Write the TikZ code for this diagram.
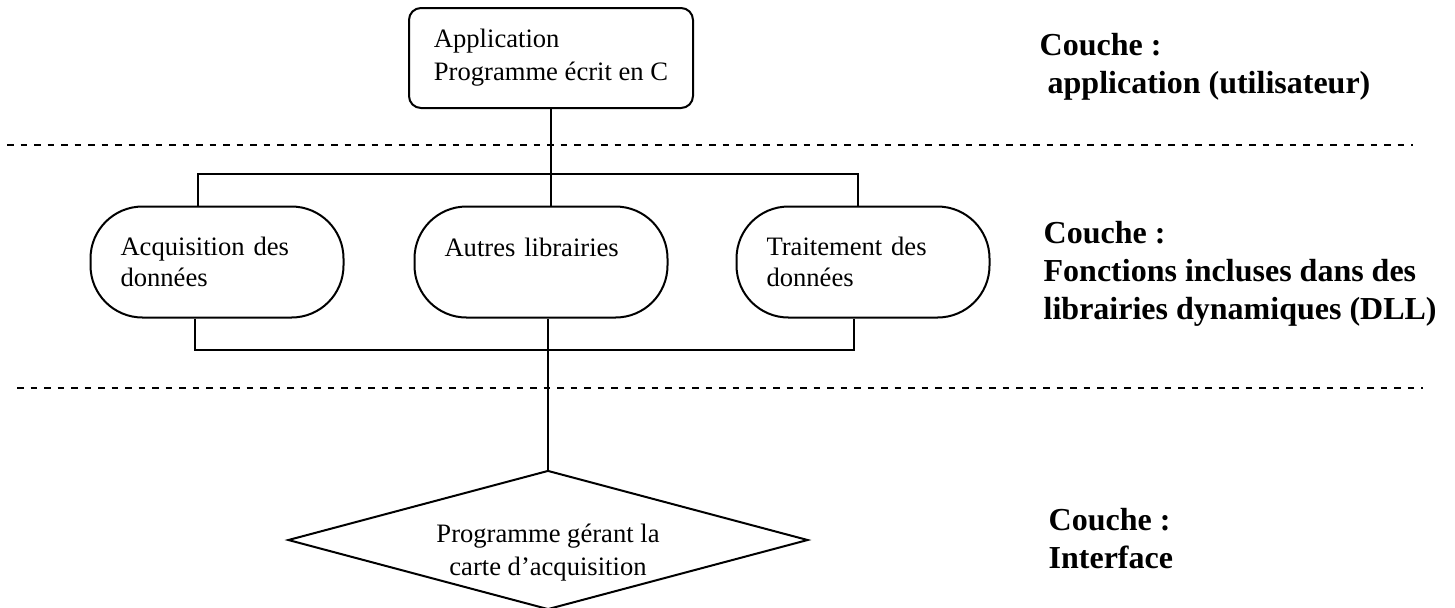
\documentclass[tikz,border=0pt]{standalone}
\usepackage{fontspec}
\setmainfont{Liberation Serif}
\usetikzlibrary{shapes.geometric,positioning}

\begin{document}
\begin{tikzpicture}[x=0.5pt, y=-0.5pt, line width=1pt,
  every node/.style={font=\fontsize{13.3}{16.5}\selectfont},
  boite/.style={draw, rounded corners=6pt, minimum width=142pt, minimum height=50pt, align=left},
  pilule/.style={draw, rounded corners=26pt, minimum width=126.5pt, minimum height=55.5pt, inner xsep=15pt, text width=96.5pt, align=left, font=\fontsize{13.3}{15.5}\selectfont},
  losange/.style={draw, diamond, minimum width=260pt, minimum height=69.5pt, aspect=3.74, inner sep=0pt},
  couche/.style={anchor=base west, align=left, font=\fontsize{16}{18.8}\selectfont\bfseries},
  separation/.style={dash pattern=on 3.4pt off 3.35pt}]
\useasboundingbox (0,0) rectangle (1455,607);

\node [boite] (app) at (551,58) {Application\\Programme écrit en C};

\node [pilule, text depth=14.5pt] (autres) at (541,262) {Autres librairies};
\node [pilule, left of=autres, node distance=162pt] (acq) {Acquisition des\\données};
\node [pilule, right of=autres, node distance=161pt] (trt) {Traitement des\\données};

\node [losange, label={[name=carteTexte, align=center, yshift=-6.5pt]center:{Programme gérant la\\carte d’acquisition}}] (carte) at (548,540) {};

\node [couche] (coucheApp) at (1032,93) {Couche :\\\hspace*{.25em}application (utilisateur)};
\node [couche] (coucheDLL) at (1036,319) {Couche :\\Fonctions incluses dans des\\librairies dynamiques (DLL)};
\node [couche] (coucheInterface) at (1041,568) {Couche :\\Interface};

\coordinate (sepHautG) at (7,145);
\coordinate (sepHautD) at (1413,145);
\coordinate (sepBasG) at (17,388);
\coordinate (sepBasD) at (1423,388);
\draw [separation] (sepHautG) -- (sepHautD);
\draw [separation] (sepBasG) -- (sepBasD);

\coordinate (hautG) at (198,174);
\coordinate (hautD) at (858,174);
\coordinate (basG) at (195,350);
\coordinate (basD) at (854,350);

\draw (app.south) -- (app.south |- hautG);
\draw (hautG |- acq.north) -- (hautG) -- (hautD) -- (hautD |- trt.north);
\draw (app.south |- hautG) -- (app.south |- autres.north);
\draw (basG |- acq.south) -- (basG) -- (basD) -- (basD |- trt.south);
\draw (carte.north |- autres.south) -- (carte.north);
\end{tikzpicture}
\end{document}
